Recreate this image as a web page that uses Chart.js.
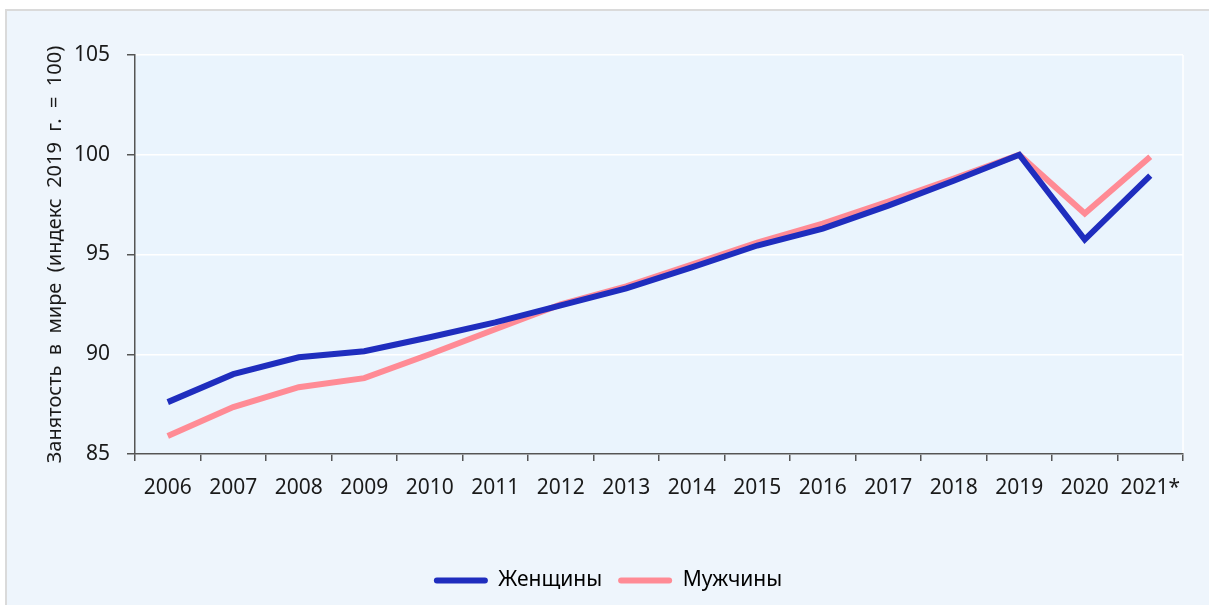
<!DOCTYPE html>
<html>
<head>
<meta charset="utf-8">
<script src="https://cdn.jsdelivr.net/npm/chart.js@4/dist/chart.umd.min.js"></script>
<style>
    html, body { margin: 0; padding: 0; background: #ffffff; }
    #box {
        position: absolute; left: 5px; top: 9px; width: 1202px; height: 594px;
        border-left: 2px solid #dadada; border-top: 2px solid #dadada;
        background: #eef5fc;
    }
    #myChart { display: block; }
</style>
</head>
<body>
<div id="box"><canvas id="myChart" width="1202" height="594"></canvas></div>
<script>
let years = ["2006", "2007", "2008", "2009", "2010", "2011", "2012", "2013",
    "2014", "2015", "2016", "2017", "2018", "2019", "2020", "2021*"]
let women = [87.6, 89.0, 89.85, 90.15, 90.85, 91.6, 92.45, 93.3,
    94.35, 95.45, 96.3, 97.45, 98.7, 100, 95.75, 98.95]
let men = [85.9, 87.35, 88.35, 88.8, 90.0, 91.25, 92.5, 93.4,
    94.5, 95.6, 96.55, 97.65, 98.8, 100, 97.05, 99.9]
let yTicks = [85, 90, 95, 100, 105]

let fontName = "'Noto Sans', 'Open Sans', sans-serif"

// plot area background + white right edge
let plotBack = {
    id: 'plotBack',
    beforeDraw(chart) {
        let a = chart.chartArea
        let ctx = chart.ctx
        ctx.save()
        ctx.fillStyle = '#eaf4fd'
        ctx.fillRect(a.left, a.top, a.right - a.left, a.bottom - a.top)
        ctx.strokeStyle = '#ffffff'
        ctx.lineWidth = 1.5
        ctx.beginPath()
        ctx.moveTo(a.right, a.top)
        ctx.lineTo(a.right, a.bottom)
        ctx.stroke()
        ctx.restore()
    }
}

let chart = new Chart("myChart", {
    type: "line",
    data: {
        labels: years,
        datasets: [{
            label: "Женщины",
            data: women,
            borderColor: "#1f2dbe",
            backgroundColor: "#1f2dbe",
            borderWidth: 6,
            pointRadius: 0,
            tension: 0
        }, {
            label: "Мужчины",
            data: men,
            borderColor: "#ff8b95",
            backgroundColor: "#ff8b95",
            borderWidth: 6,
            pointRadius: 0,
            tension: 0
        }]
    },
    options: {
        responsive: false,
        animation: false,
        layout: { padding: { left: 0, top: 44, right: 0, bottom: 4 } },
        scales: {
            x: {
                offset: true,
                afterFit(scale) { scale.height = 100 },
                grid: {
                    offset: true,
                    drawOnChartArea: false,
                    tickLength: 7,
                    tickColor: '#555555',
                    lineWidth: 1.5
                },
                border: { color: '#555555', width: 1.5 },
                ticks: {
                    color: '#1a1a1a',
                    padding: 14,
                    maxRotation: 0,
                    autoSkip: false,
                    font: { family: fontName, size: 21 }
                }
            },
            y: {
                min: 85,
                max: 105,
                afterFit(scale) { scale.width = 128 },
                afterBuildTicks(scale) {
                    scale.ticks = yTicks.map(v => ({ value: v }))
                },
                grid: {
                    color: '#ffffff',
                    lineWidth: 1.5,
                    tickLength: 8,
                    tickColor: '#555555'
                },
                border: { color: '#555555', width: 1.5 },
                ticks: {
                    color: '#1a1a1a',
                    padding: 17,
                    font: { family: fontName, size: 21 }
                },
                title: {
                    display: true,
                    text: "Занятость  в  мире  (индекс  2019  г.  =  100)",
                    color: '#1a1a1a',
                    padding: { top: 36, bottom: 0 },
                    font: { family: fontName, size: 20 }
                }
            },
            // empty right axis, keeps space right of the plot
            yRight: {
                position: 'right',
                afterFit(scale) { scale.width = 26 },
                grid: { display: false },
                border: { display: false },
                ticks: { display: false }
            }
        },
        plugins: {
            tooltip: { enabled: false },
            title: { display: false },
            legend: {
                position: 'bottom',
                labels: {
                    color: '#1a1a1a',
                    boxWidth: 54,
                    boxHeight: 6,
                    padding: 16,
                    font: { family: fontName, size: 21 },
                    generateLabels(ch) {
                        return ch.data.datasets.map((ds, i) => ({
                            text: ds.label,
                            fillStyle: ds.borderColor,
                            strokeStyle: ds.borderColor,
                            lineWidth: 0,
                            borderRadius: 3,
                            datasetIndex: i,
                            hidden: false
                        }))
                    }
                }
            }
        }
    },
    plugins: [plotBack]
})
</script>
</body>
</html>
